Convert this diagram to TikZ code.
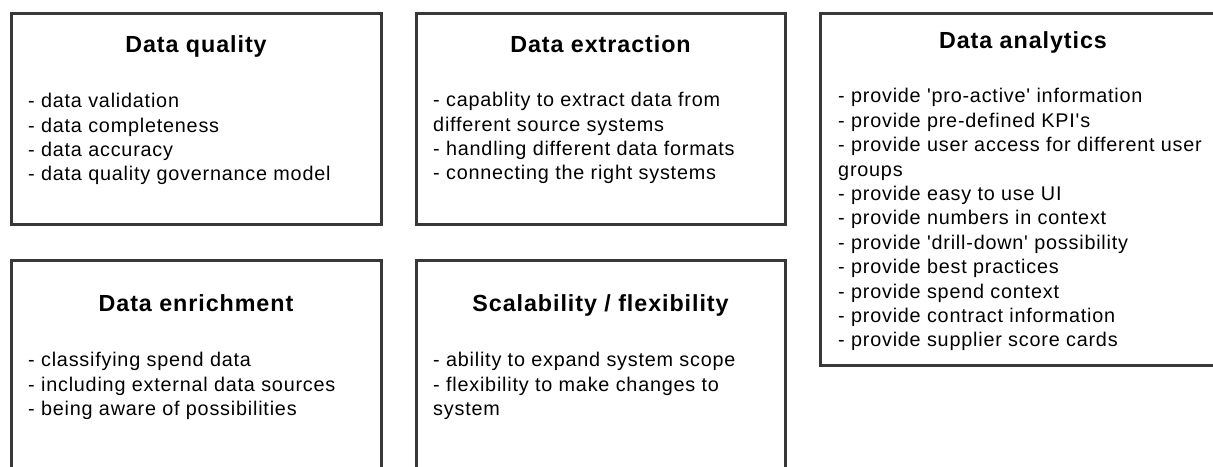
\documentclass[tikz,border=0pt]{standalone}
\usepackage{fontspec}
\setmainfont{Liberation Sans}[LetterSpace=4,Ligatures=TeXOff]
\usetikzlibrary{positioning}
\definecolor{edgegray}{HTML}{383838}

\begin{document}
\begin{tikzpicture}[x=1pt,y=-1pt,
  panel/.style={draw=edgegray,line width=3pt,rectangle,anchor=north west,inner sep=0pt,outer sep=0pt},
  heading/.style={font=\fontsize{23.3}{27}\selectfont\bfseries,inner sep=0pt,text height=17pt,text depth=5pt},
  items/.style={font=\fontsize{19.8}{24.4}\selectfont,align=left,inner sep=0pt}]

\useasboundingbox (0,0) rectangle (1213,466);
\clip (0,0) rectangle (1213,466);
\fill[white] (0,0) rectangle (1213,466);

\node[panel,minimum width=370pt,minimum height=211pt] (quality) at (11,13.5) {};
\node[panel,minimum width=369pt,minimum height=211pt] (extraction) at (416,13.5) {};
\node[panel,minimum width=406pt,minimum height=351.5pt] (analytics) at (820,13.5) {};
\node[panel,minimum width=370pt,minimum height=240pt] (enrichment) at (11,260.3) {};
\node[panel,minimum width=369pt,minimum height=240pt] (scaling) at (416,260.3) {};

\node[heading,below=21.5pt of quality.north] (qualityhead) {Data quality};
\node[heading,below=21.5pt of extraction.north] (extractionhead) {Data extraction};
\node[heading,below=18pt of analytics.north] (analyticshead) {Data analytics};
\node[heading,below=34.4pt of enrichment.north] (enrichmenthead) {Data enrichment};
\node[heading,below=34.4pt of scaling.north] (scalinghead) {Scalability / flexibility};

\node[items,below right=77pt and 17pt of quality.north west] (qualitylist)
  {\strut- data validation\\- data completeness\\- data accuracy\\- data quality governance model};
\node[items,below right=76pt and 17pt of extraction.north west] (extractionlist)
  {\strut- capablity to extract data from\\different source systems\\- handling different data formats\\- connecting the right systems};
\node[items,below right=72.1pt and 18pt of analytics.north west] (analyticslist)
  {\strut- provide 'pro-active' information\\- provide pre-defined KPI's\\- provide user access for different user\\groups\\- provide easy to use UI\\- provide numbers in context\\- provide 'drill-down' possibility\\- provide best practices\\- provide spend context\\- provide contract information\\- provide supplier score cards};
\node[items,below right=89.3pt and 17pt of enrichment.north west] (enrichmentlist)
  {\strut- classifying spend data\\- including external data sources\\- being aware of possibilities};
\node[items,below right=89.3pt and 17pt of scaling.north west] (scalinglist)
  {\strut- ability to expand system scope\\- flexibility to make changes to\\system};

\end{tikzpicture}
\end{document}
